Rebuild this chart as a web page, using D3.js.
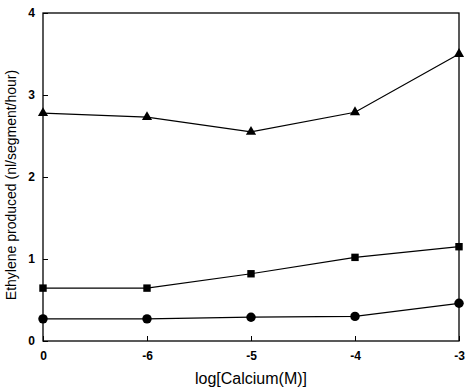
<!DOCTYPE html>
<html>
<head>
<meta charset="utf-8">
<script src="https://cdn.jsdelivr.net/npm/d3@7"></script>
<style>
body { margin: 0; background: #fff; }
text { font-family: "Liberation Sans", Arial, sans-serif; }
</style>
</head>
<body>
<div class="interactive"></div>
<script>
var width = 468;
var height = 391;

// data
var categories = ["0", "-6", "-5", "-4", "-3"];
var triangles = [2.78, 2.73, 2.55, 2.79, 3.5];
var squares = [0.645, 0.645, 0.82, 1.02, 1.15];
var circles = [0.27, 0.27, 0.29, 0.30, 0.46];
var yTicks = [0, 1, 2, 3, 4];

var margin = { left: 43, right: 9, top: 13, bottom: 50 };

var svg = d3.select(".interactive")
    .append("svg")
    .attr("width", width)
    .attr("height", height);

var x = d3.scalePoint()
    .domain(categories)
    .range([margin.left, width - margin.right]);

var y = d3.scaleLinear()
    .domain([0, 4])
    .range([height - margin.bottom, margin.top]);

// frame
svg.append("rect")
    .attr("x", margin.left)
    .attr("y", margin.top)
    .attr("width", width - margin.left - margin.right)
    .attr("height", height - margin.top - margin.bottom)
    .attr("fill", "none")
    .attr("stroke", "#000")
    .attr("stroke-width", 1.3);

// axes, ticks pointing inward
var yAxis = svg.append("g")
    .attr("transform", "translate(" + margin.left + ",0)")
    .call(d3.axisLeft(y).tickValues(yTicks).tickFormat(d3.format("d")).tickSizeInner(-5).tickSizeOuter(0).tickPadding(8));
yAxis.select(".domain").remove();
yAxis.selectAll("text").attr("font-size", 12).attr("font-weight", "bold").attr("fill", "#000");

var xAxis = svg.append("g")
    .attr("transform", "translate(0," + (height - margin.bottom) + ")")
    .call(d3.axisBottom(x).tickSizeInner(-5).tickSizeOuter(0).tickPadding(10));
xAxis.select(".domain").remove();
xAxis.selectAll("text").attr("font-size", 12).attr("font-weight", "bold").attr("fill", "#000");

// axis titles
svg.append("text")
    .attr("transform", "translate(16," + 185 + ") rotate(-90)")
    .attr("text-anchor", "middle")
    .attr("font-size", 14)
    .text("Ethylene produced (nl/segment/hour)");

svg.append("text")
    .attr("x", (margin.left + width - margin.right) / 2)
    .attr("y", 384)
    .attr("text-anchor", "middle")
    .attr("font-size", 16)
    .text("log[Calcium(M)]");

var line = d3.line()
    .x(function(d, i) { return x(categories[i]); })
    .y(function(d) { return y(d); });

var series = [
    { values: triangles, shape: d3.symbolTriangle, size: 45 },
    { values: squares, shape: d3.symbolSquare, size: 55 },
    { values: circles, shape: d3.symbolCircle, size: 70 }
];

series.forEach(function(s) {
    svg.append("path")
        .datum(s.values)
        .attr("fill", "none")
        .attr("stroke", "#000")
        .attr("stroke-width", 1.2)
        .attr("d", line);

    svg.selectAll(null)
        .data(s.values)
        .enter()
        .append("path")
        .attr("transform", function(d, i) { return "translate(" + x(categories[i]) + "," + y(d) + ")"; })
        .attr("d", d3.symbol().type(s.shape).size(s.size))
        .attr("fill", "#000");
});
</script>
</body>
</html>
